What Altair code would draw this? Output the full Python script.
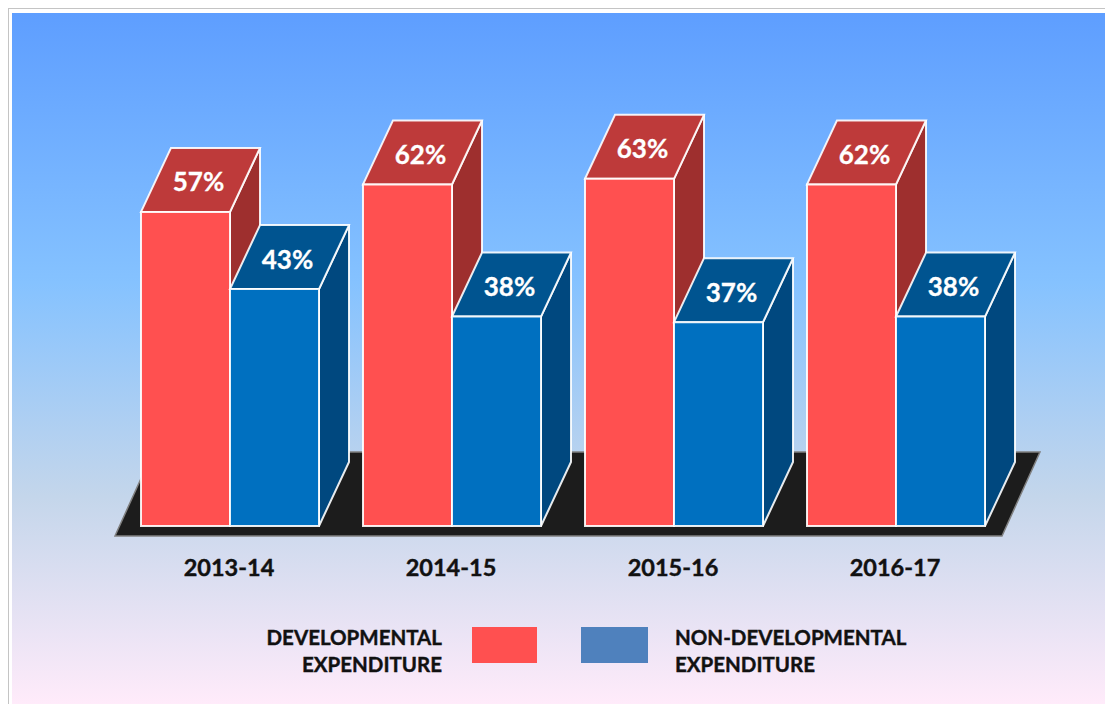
import altair as alt
import pandas as pd

years = ["2013-14", "2014-15", "2015-16", "2016-17"]
developmental = [57, 62, 63, 62]
non_developmental = [43, 38, 37, 38]
legend_left = ["DEVELOPMENTAL", "EXPENDITURE"]
legend_right = ["NON-DEVELOPMENTAL", "EXPENDITURE"]

# Geometry: x axis is in "year groups", y axis in percentage points.
PX_X, PX_Y = 222.0, 5.51
def ux(px): return (px - 141) / PX_X
def uy(px): return (526 - px) / PX_Y
BAR = 89 / PX_X
DX = 30 / PX_X
DY = 64 / PX_Y
RIGHT = 1105

xs = alt.Scale(domain=[ux(8), ux(RIGHT)], range=[0, RIGHT - 8], nice=False, zero=False)
ys = alt.Scale(domain=[uy(704), uy(8)], range=[696, 0], nice=False, zero=False)
X = lambda f="x": alt.X(f"{f}:Q", scale=xs, axis=None, stack=False)
Y = lambda f="y": alt.Y(f"{f}:Q", scale=ys, axis=None, stack=False)
X2 = alt.X2("x2:Q")
Y2 = alt.Y2("y2:Q")

def rect(df, **style):
    return alt.Chart(pd.DataFrame(df)).mark_rect(**style).encode(x=X(), x2=X2, y=Y(), y2=Y2)

# Background and frame
frame = rect([dict(x=ux(8), x2=ux(RIGHT), y=uy(8), y2=uy(704))], fill="white")
edge_top = rect([dict(x=ux(8), x2=ux(RIGHT), y=uy(8), y2=uy(9))], fill="#c4c4c4")
edge_left = rect([dict(x=ux(8), x2=ux(9), y=uy(8), y2=uy(704))], fill="#c4c4c4")
gradient = alt.Gradient(
    gradient="linear", x1=0, x2=0, y1=0, y2=1,
    stops=[
        alt.GradientStop(color="#5E9EFF", offset=0),
        alt.GradientStop(color="#85C2FF", offset=0.39),
        alt.GradientStop(color="#C4D6EB", offset=0.70),
        alt.GradientStop(color="#FFEBFA", offset=1),
    ],
)
bg = alt.Chart(pd.DataFrame([dict(x=ux(12), x2=ux(RIGHT), y=uy(13), y2=uy(704))])).mark_rect(
    color=gradient
).encode(x=X(), x2=X2, y=Y(), y2=Y2)

# Floor
floor_df = pd.DataFrame([
    dict(y=uy(536), x=ux(115), x2=ux(1002)),
    dict(y=uy(452), x=ux(153), x2=ux(1040)),
])
floor = alt.Chart(floor_df).mark_area(
    orient="horizontal", fill="#1c1c1c", stroke="#808080", strokeWidth=1.5
).encode(x=X(), x2=X2, y=Y())

def bar_layers(values, offset, front, top, side):
    lw = 2
    front_rows, top_rows, side_rows = [], [], []
    for i, v in enumerate(values):
        left = i + offset
        right = left + BAR
        front_rows.append(dict(x=left, x2=right, y=v, y2=0))
        top_rows += [
            dict(g=i, y=v, x=left, x2=right),
            dict(g=i, y=v + DY, x=left + DX, x2=right + DX),
        ]
        side_rows += [
            dict(g=i, x=right, y=v, y2=0),
            dict(g=i, x=right + DX, y=v + DY, y2=DY),
        ]
    s = alt.Chart(pd.DataFrame(side_rows)).mark_area(
        fill=side, stroke="white", strokeWidth=lw, strokeOpacity=0.9
    ).encode(x=X(), y=Y(), y2=Y2, detail="g:N")
    t = alt.Chart(pd.DataFrame(top_rows)).mark_area(
        orient="horizontal", fill=top, stroke="white", strokeWidth=lw, strokeOpacity=0.9
    ).encode(x=X(), x2=X2, y=Y(), detail="g:N")
    f = rect(front_rows, fill=front, stroke="white", strokeWidth=lw, strokeOpacity=0.9)
    return [s, t, f]

red = bar_layers(developmental, 0, "#FF5050", "#BE3A3A", "#9E2F2E")
blue = bar_layers(non_developmental, BAR, "#0070C0", "#005490", "#00487F")

# Value labels on the top faces
val_rows = []
for i, (a, b) in enumerate(zip(developmental, non_developmental)):
    val_rows.append(dict(x=i + BAR / 2 + DX / 2, y=a + DY / 2, t=f"{a}%"))
    val_rows.append(dict(x=i + BAR * 1.5 + DX / 2, y=b + DY / 2, t=f"{b}%"))
FONT = "Lato"
value_text = alt.Chart(pd.DataFrame(val_rows)).mark_text(
    font=FONT, fontWeight="bold", fontSize=26, color="white", baseline="middle",
    dx=-2, dy=3.5, stroke="white", strokeWidth=0.3
).encode(x=X(), y=Y(), text="t:N")

# Year labels
year_df = pd.DataFrame([dict(x=i + BAR, y=uy(569), t=t) for i, t in enumerate(years)])
year_text = alt.Chart(year_df).mark_text(
    font=FONT, fontWeight="bold", fontSize=23.5, color="#111111", baseline="middle",
    dx=-1, stroke="#111111", strokeWidth=0.4
).encode(x=X(), y=Y(), text="t:N")

# Legend
legend_red = rect([dict(x=ux(472), x2=ux(537), y=uy(627), y2=uy(663))], fill="#FF5050")
legend_blue = rect([dict(x=ux(581), x2=ux(648), y=uy(627), y2=uy(663))], fill="#4F81BD")
ll = pd.DataFrame([dict(x=ux(442), y=uy(639 + 27 * i), t=t) for i, t in enumerate(legend_left)])
lr = pd.DataFrame([dict(x=ux(675), y=uy(639 + 27 * i), t=t) for i, t in enumerate(legend_right)])
legend_l = alt.Chart(ll).mark_text(
    font=FONT, fontWeight="bold", fontSize=20.5, color="#111111", baseline="middle", align="right",
    stroke="#111111", strokeWidth=0.4
).encode(x=X(), y=Y(), text="t:N")
legend_r = alt.Chart(lr).mark_text(
    font=FONT, fontWeight="bold", fontSize=20.5, color="#111111", baseline="middle", align="left",
    stroke="#111111", strokeWidth=0.4
).encode(x=X(), y=Y(), text="t:N")

chart = alt.layer(
    frame, edge_top, edge_left, bg, floor, *red, *blue, value_text, year_text,
    legend_red, legend_blue, legend_l, legend_r,
).properties(width=RIGHT - 8, height=696, padding=0, background="white",
             autosize=alt.AutoSizeParams(type="none")
).configure_view(stroke=None)

chart.save("out.html", embed_options={"renderer": "svg", "actions": False})
